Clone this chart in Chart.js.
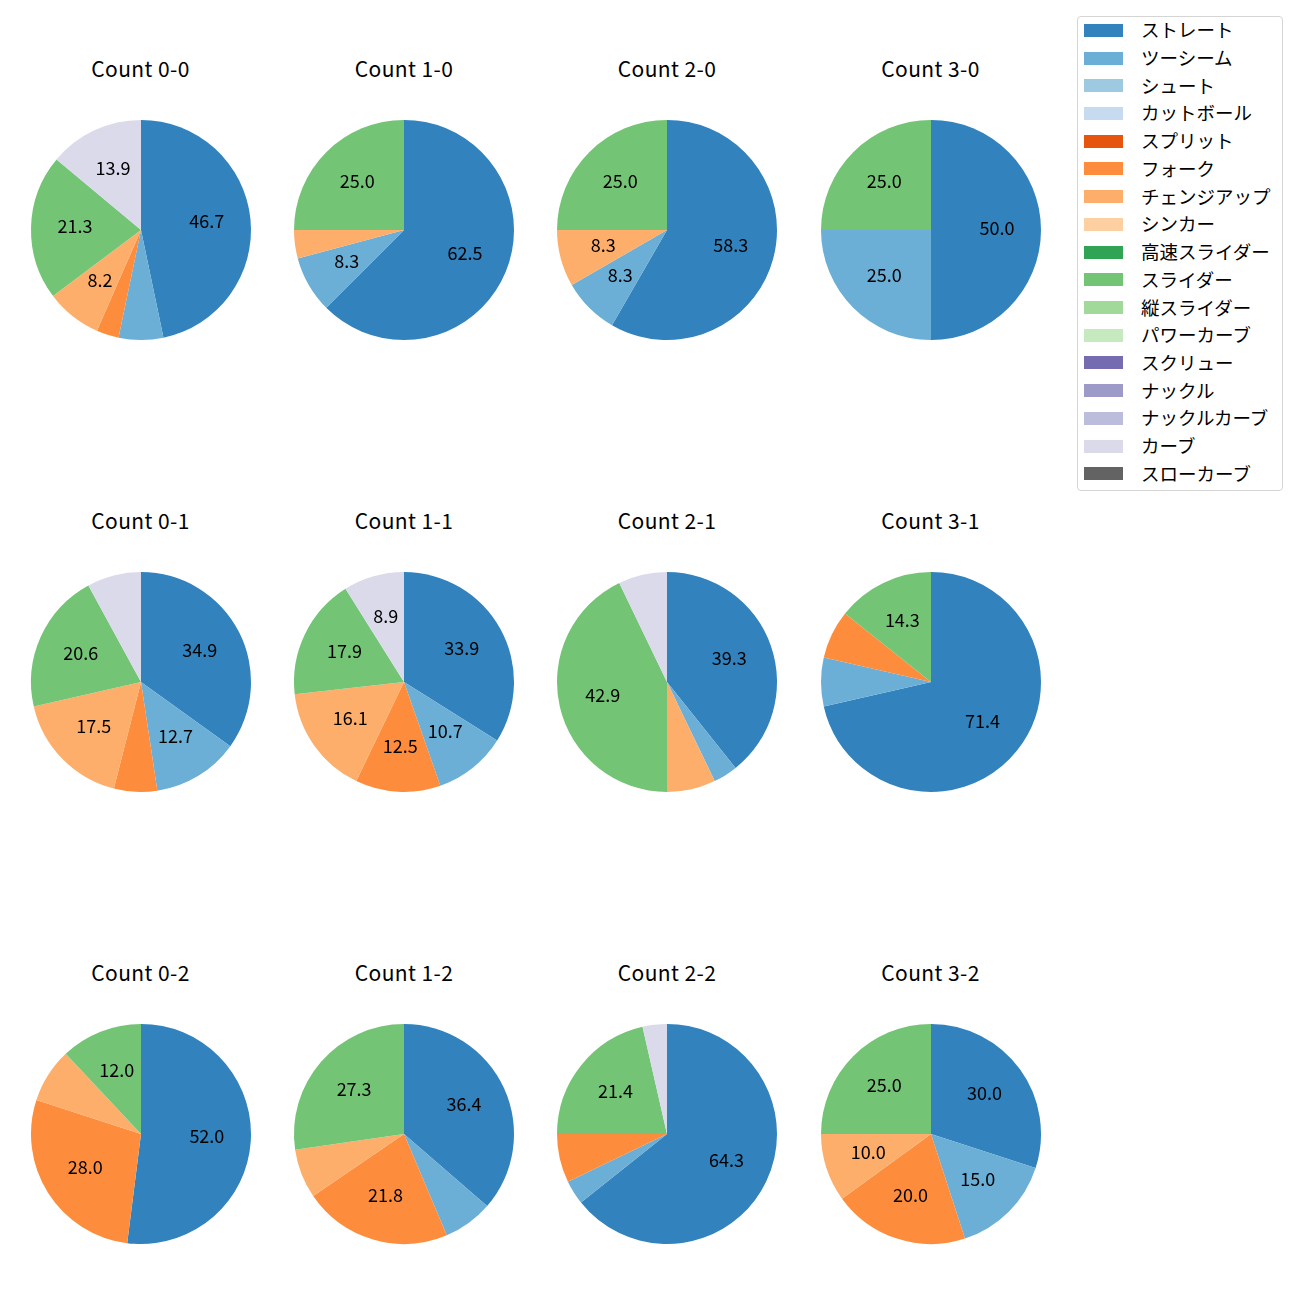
<!DOCTYPE html>
<html><head><meta charset="utf-8">
<script src="https://cdn.jsdelivr.net/npm/chart.js@4/dist/chart.umd.min.js"></script>
<style>
body{margin:0;background:#fff;}
#wrap{position:relative;width:1300px;height:1300px;background:#fff;font-family:"Noto Sans CJK JP","Noto Sans",sans-serif;color:#000;overflow:hidden}
canvas.cv{position:absolute;}
.title{position:absolute;width:260px;text-align:center;font-size:21px;letter-spacing:0.4px;line-height:24px;white-space:nowrap}
#legend{position:absolute;left:1077px;top:16px;width:206px;height:475px;border:1px solid #d5d5d5;border-radius:4px;box-sizing:border-box;background:#fff}
.sw{position:absolute;left:6px;width:39px;height:13px;}
.lt{position:absolute;left:63px;font-size:18.5px;line-height:22px;white-space:nowrap}
</style></head>
<body><div id="wrap"><div id="legend"></div></div>
<script>
const pitchTypes = ['ストレート','ツーシーム','シュート','カットボール','スプリット','フォーク','チェンジアップ','シンカー','高速スライダー','スライダー','縦スライダー','パワーカーブ','スクリュー','ナックル','ナックルカーブ','カーブ','スローカーブ'];
const pitchColors = ['#3182bd','#6baed6','#9ecae1','#c6dbef','#e6550d','#fd8d3c','#fdae6b','#fdd0a2','#31a354','#74c476','#a1d99b','#c7e9c0','#756bb1','#9e9ac8','#bcbddc','#dadaeb','#636363'];
const countTitles = ['Count 0-0','Count 1-0','Count 2-0','Count 3-0','Count 0-1','Count 1-1','Count 2-1','Count 3-1','Count 0-2','Count 1-2','Count 2-2','Count 3-2'];
// pitch counts, aligned with pitchTypes
const c00 = [57,8,0,0,0,4,10,0,0,26,0,0,0,0,0,17,0];
const c10 = [15,2,0,0,0,0,1,0,0,6,0,0,0,0,0,0,0];
const c20 = [7,1,0,0,0,0,1,0,0,3,0,0,0,0,0,0,0];
const c30 = [2,1,0,0,0,0,0,0,0,1,0,0,0,0,0,0,0];
const c01 = [22,8,0,0,0,4,11,0,0,13,0,0,0,0,0,5,0];
const c11 = [19,6,0,0,0,7,9,0,0,10,0,0,0,0,0,5,0];
const c21 = [11,1,0,0,0,0,2,0,0,12,0,0,0,0,0,2,0];
const c31 = [10,1,0,0,0,1,0,0,0,2,0,0,0,0,0,0,0];
const c02 = [13,0,0,0,0,7,2,0,0,3,0,0,0,0,0,0,0];
const c12 = [20,4,0,0,0,12,4,0,0,15,0,0,0,0,0,0,0];
const c22 = [18,1,0,0,0,2,0,0,0,6,0,0,0,0,0,1,0];
const c32 = [6,3,0,0,0,4,2,0,0,5,0,0,0,0,0,0,0];
const allCounts = [c00,c10,c20,c30,c01,c11,c21,c31,c02,c12,c22,c32];

const colCenters = [140.5, 404, 667, 930.5];
const rowCenters = [230, 682, 1134];
const wrap = document.getElementById('wrap');

const pctLabels = {
  id:'pctLabels',
  afterDatasetsDraw(chart){
    const ctx = chart.ctx;
    const data = chart.data.datasets[0].data;
    const total = data.reduce((a,b)=>a+b,0);
    const meta = chart.getDatasetMeta(0);
    ctx.save();
    ctx.font = '18px "Noto Sans CJK JP", "Noto Sans", sans-serif';
    ctx.fillStyle = '#000';
    ctx.textAlign = 'center';
    ctx.textBaseline = 'middle';
    meta.data.forEach((arc,i)=>{
      const pct = data[i]/total*100;
      if (pct <= 8) return;
      const p = arc.getProps(['x','y','startAngle','endAngle','outerRadius'], true);
      const mid = (p.startAngle + p.endAngle)/2;
      const r = p.outerRadius*0.6;
      ctx.fillText(pct.toFixed(1), p.x + Math.cos(mid)*r, p.y + Math.sin(mid)*r - 2);
    });
    ctx.restore();
  }
};

allCounts.forEach((vals, k)=>{
  const col = k % 4, row = Math.floor(k/4);
  const cx = colCenters[col], cy = rowCenters[row];
  const cv = document.createElement('canvas');
  cv.className='cv'; cv.width=240; cv.height=240;
  cv.style.left=(cx-120)+'px'; cv.style.top=(cy-120)+'px';
  wrap.appendChild(cv);
  const t = document.createElement('div');
  t.className='title'; t.textContent=countTitles[k];
  t.style.left=(cx-130)+'px'; t.style.top=(cy-162-12)+'px';
  wrap.appendChild(t);
  new Chart(cv,{
    type:'pie',
    data:{labels:pitchTypes,datasets:[{data:vals,backgroundColor:pitchColors,borderWidth:0}]},
    options:{responsive:false,animation:false,radius:110,layout:{padding:0},
      plugins:{legend:{display:false},tooltip:{enabled:false},title:{display:false}}},
    plugins:[pctLabels]
  });
});

const lg = document.getElementById('legend');
pitchTypes.forEach((name,i)=>{
  const yc = 29.3 + i*27.72 - 16;
  const sw = document.createElement('div');
  sw.className='sw'; sw.style.background=pitchColors[i]; sw.style.top=(yc-6.5)+'px';
  lg.appendChild(sw);
  const tx = document.createElement('div');
  tx.className='lt'; tx.textContent=name; tx.style.top=(yc-12)+'px';
  lg.appendChild(tx);
});
</script></body></html>
